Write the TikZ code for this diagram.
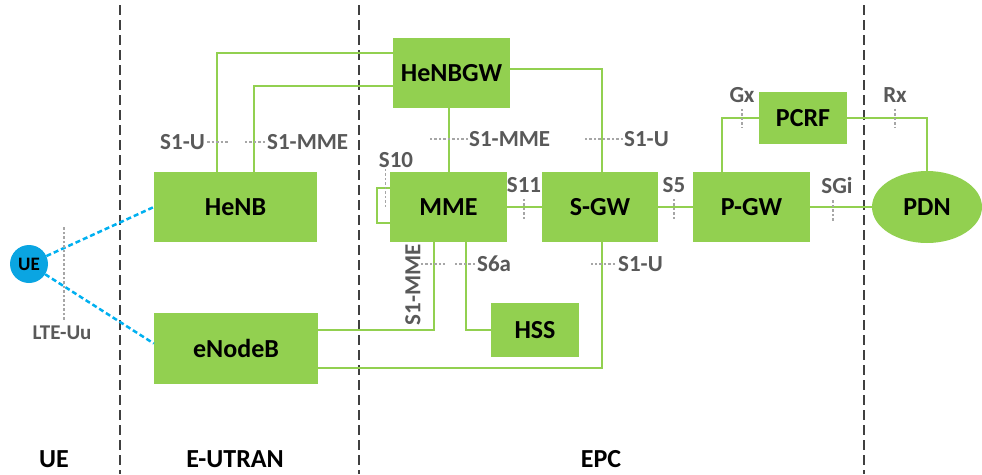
\documentclass[tikz,border=0pt]{standalone}
\usepackage{fontspec}
\setmainfont{Carlito}
\usetikzlibrary{shapes.geometric}
\definecolor{boxgreen}{HTML}{92D050}
\definecolor{lblgray}{HTML}{595959}
\definecolor{tickgray}{HTML}{A6A6A6}
\definecolor{sepgray}{HTML}{404040}
\definecolor{airblue}{HTML}{00B0F0}
\definecolor{uefill}{HTML}{0AA5E2}

\begin{document}
\begin{tikzpicture}[x=1pt, y=-1pt,
    box/.style={fill=boxgreen, inner sep=0pt, font=\fontsize{26}{30}\selectfont\bfseries},
    link/.style={draw=boxgreen, line width=2pt},
    lbl/.style={text=lblgray, inner sep=0pt, font=\fontsize{23}{27}\selectfont\bfseries},
    tick/.style={draw=tickgray, line width=1.4pt, dash pattern=on 2.5pt off 2pt},
    sep/.style={draw=sepgray, line width=1.2pt, dash pattern=on 10pt off 5pt},
    air/.style={draw=airblue, line width=2.5pt, dash pattern=on 5pt off 3pt},
    title/.style={inner sep=0pt, font=\fontsize{26}{30}\selectfont\bfseries}]
    \useasboundingbox (0,0) rectangle (982,474);

    % 分区虚线
    \foreach \x in {120,359,864}
        \draw[sep] (\x,5) -- (\x,474);

    % 网元
    \node[box, minimum width=117, minimum height=70] (henbgw) at (451.5,73) {HeNBGW};
    \node[box, minimum width=163, minimum height=70] (henb) at (235.5,207) {HeNB};
    \node[box, minimum width=164, minimum height=71] (enb) at (236,348.5) {eNodeB};
    \node[box, minimum width=117, minimum height=70] (mme) at (448.5,207) {MME};
    \node[box, minimum width=116, minimum height=70] (sgw) at (600,207) {S-GW};
    \node[box, minimum width=117, minimum height=70] (pgw) at (751.5,207) {P-GW};
    \node[box, minimum width=88, minimum height=52] (pcrf) at (803,118) {PCRF};
    \node[box, minimum width=88, minimum height=54] (hss) at (535,330) {HSS};
    \node[box, ellipse, minimum width=110, minimum height=72] (pdn) at (927,207) {PDN};
    \node[circle, fill=uefill, minimum size=38, inner sep=0pt,
          font=\fontsize{19}{22}\selectfont\bfseries] (ue) at (29,264) {UE};

    % 空口
    \draw[air] (ue) -- (henb.west);
    \draw[air] (ue) -- ([yshift=5]enb.west);

    % 接口连线
    \draw[link] ([xshift=63]henb.north west) |- ([yshift=-15]henbgw.north west);
    \draw[link] ([xshift=100]henb.north west) |- ([yshift=-48]henbgw.north west);
    \draw[link] (henbgw.south -| mme.north) -- (mme.north);
    \draw[link] ([yshift=4]henbgw.east) -| ([xshift=2]sgw.north);
    \draw[link] ([yshift=-16]mme.north west) -- ++(-13,0) |- ([yshift=-51]mme.north west);
    \draw[link] (mme.east) -- (sgw.west);
    \draw[link] (sgw.east) -- (pgw.west);
    \draw[link] (pgw.east) -- (pdn.west);
    \draw[link] (pcrf.west) -| ([xshift=29]pgw.north west);
    \draw[link] (pcrf.east) -| (pdn.north);
    \draw[link] ([yshift=-17]enb.north east) -| ([xshift=44]mme.south west);
    \draw[link] ([xshift=76]mme.south west) |- (hss.west);
    \draw[link] ([yshift=-55]enb.north east) -| ([xshift=2]sgw.south);

    % 接口标注
    \node[lbl, anchor=east] (s1u-l) at (205,142) {S1-U};
    \draw[tick] ([xshift=2]s1u-l.east) -- ++(21,0);
    \node[lbl, anchor=west] (s1mme-l) at (267,142) {S1-MME};
    \draw[tick] ([xshift=-2]s1mme-l.west) -- ++(-21,0);
    \node[lbl, anchor=west] (s1mme-m) at (469,139) {S1-MME};
    \draw[tick] ([xshift=-1]s1mme-m.west) -- ++(-40,0);
    \node[lbl, anchor=west] (s1u-r) at (624,139) {S1-U};
    \draw[tick] ([xshift=-1]s1u-r.west) -- ++(-38,0);
    \node[lbl] (s10) at (396,160) {S10};
    \draw[tick] ([xshift=7,yshift=-1]s10.south west) -- ++(0,40);
    \node[lbl] (s11) at (524,185) {S11};
    \draw[tick] ([yshift=-6]s11.south) -- ++(0,21);
    \node[lbl] (s5) at (674,185) {S5};
    \draw[tick] ([yshift=-6]s5.south) -- ++(0,21);
    \node[lbl] (sgi) at (837,186) {SGi};
    \draw[tick] ([xshift=-4,yshift=-6]sgi.south) -- ++(0,21);
    \node[lbl] (gx) at (742,95) {Gx};
    \draw[tick] ([yshift=-6]gx.south) -- ++(0,19);
    \node[lbl] (rx) at (895,95) {Rx};
    \draw[tick] ([yshift=-6]rx.south) -- ++(0,19);
    \node[lbl, rotate=90] (s1mme-b) at (413,285) {S1-MME};
    \draw[tick] ([yshift=21]s1mme-b.south) -- ++(24,0);
    \node[lbl, anchor=west] (s6a) at (477,264) {S6a};
    \draw[tick] ([xshift=-2]s6a.west) -- ++(-20,0);
    \node[lbl, anchor=west] (s1u-b) at (618,264) {S1-U};
    \draw[tick] ([xshift=-3]s1u-b.west) -- ++(-24,0);
    \node[lbl, font=\fontsize{21}{25}\selectfont\bfseries] (lteuu) at (62,333) {LTE-Uu};
    \draw[tick] ([xshift=2,yshift=6]lteuu.north) -- ++(0,-94);

    % 区域名称
    \node[title] (t-ue) at (54,459) {UE};
    \node[title] (t-eutran) at (235,459) {E-UTRAN};
    \node[title] (t-epc) at (601,459) {EPC};
\end{tikzpicture}
\end{document}
